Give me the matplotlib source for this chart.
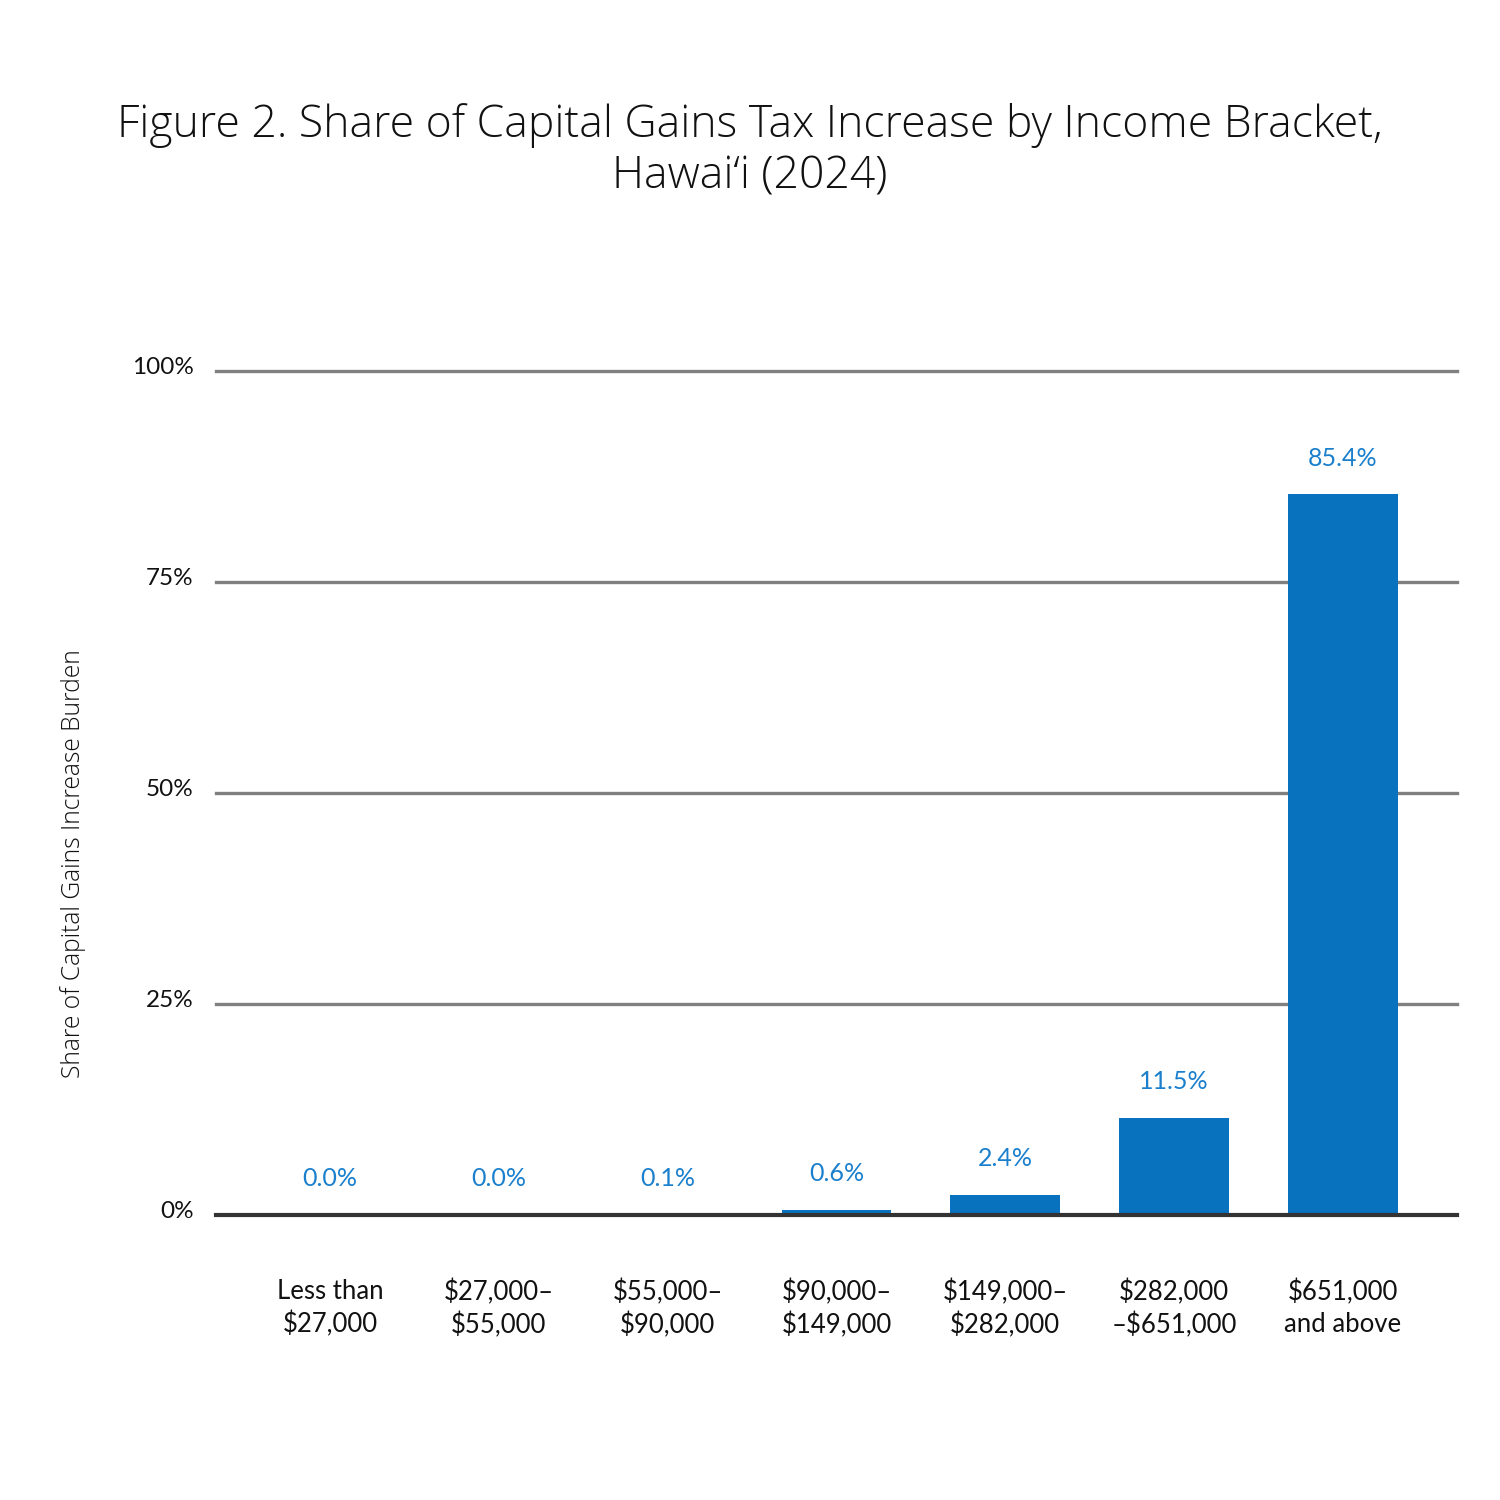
import matplotlib
matplotlib.use("Agg")
import matplotlib.pyplot as plt
import matplotlib.transforms as mtransforms

categories = ["Less than\n$27,000", "$27,000–\n$55,000", "$55,000–\n$90,000",
              "$90,000–\n$149,000", "$149,000–\n$282,000", "$282,000\n–$651,000",
              "$651,000\nand above"]
values = [0.0, 0.0, 0.1, 0.6, 2.4, 11.5, 85.4]
value_labels = ["0.0%", "0.0%", "0.1%", "0.6%", "2.4%", "11.5%", "85.4%"]
yticks = [0, 25, 50, 75, 100]
ytick_labels = ["0%", "25%", "50%", "75%", "100%"]
title = "Figure 2. Share of Capital Gains Tax Increase by Income Bracket,\nHawai‘i (2024)"
ylabel = "Share of Capital Gains Increase Burden"

bar_color = "#0872bf"
label_color = "#1a7fcc"
tick_font = ["Lato", "DejaVu Sans"]

fig = plt.figure(figsize=(15, 15), dpi=100)
ax = fig.add_axes([0.144, 0.19, 0.8273, 0.5627])

x = list(range(len(categories)))
ax.bar(x, values, width=0.65, color=bar_color, zorder=3)
ax.set_xlim(-0.675, 6.675)
ax.set_ylim(0, 100)

for v in yticks:
    if v == 0:
        ax.axhline(v, color="#333333", lw=3, zorder=4, clip_on=False)
    else:
        ax.axhline(v, color="#808080", lw=2.4, zorder=1, clip_on=False)

for xi, v, lab in zip(x, values, value_labels):
    ax.annotate(lab, (xi, v), xytext=(0, 36), textcoords="offset pixels",
                ha="center", va="center", color=label_color, fontsize=18,
                family=tick_font)

for s in ax.spines.values():
    s.set_visible(False)

ax.set_xticks(x)
ax.set_xticklabels(categories, fontsize=18.5, family=tick_font,
                   color="#111111", linespacing=1.35)
ax.tick_params(axis="x", length=0, pad=46)
ax.set_yticks(yticks)
ax.set_yticklabels(ytick_labels, fontsize=17.5, family=tick_font,
                   color="#111111")
ax.tick_params(axis="y", length=0, pad=16)
off = mtransforms.ScaledTranslation(0, 5 / 100, fig.dpi_scale_trans)
for t in ax.get_yticklabels():
    t.set_transform(t.get_transform() + off)

fig.text(0.0487, 0.19 + 0.5627 * 0.5 - 0.047, ylabel, rotation=90, ha="center",
         va="center", fontsize=17.7, family=["Open Sans", "DejaVu Sans"],
         fontweight="light", color="#111111")

fig.text(0.5, 0.8993, title, ha="center", va="center", fontsize=32,
         family=["Open Sans", "DejaVu Sans"], fontweight="light",
         color="#111111", linespacing=1.2)

fig.savefig("out.png", dpi=100, facecolor="white")
